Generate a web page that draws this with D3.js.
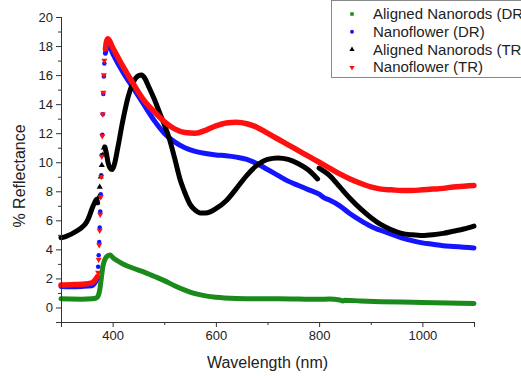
<!DOCTYPE html>
<html>
<head>
<meta charset="utf-8">
<script src="https://cdn.jsdelivr.net/npm/d3@7"></script>
<style>
  body { margin: 0; background: #fff; }
  text { font-family: "Liberation Sans", Arial, sans-serif; fill: #222; }
</style>
</head>
<body>
<div class="chart"></div>
<script>
var svgWidth = 521;
var svgHeight = 376;

// plot box
var margin = { top: 17, right: 47, bottom: 54, left: 61 };
var width = 474 - margin.left;
var height = 322 - margin.top;

// Aligned Nanorods (DR)
var wlGreen = [300, 320, 340, 360, 368, 372, 375, 378, 381, 385, 390, 395, 400, 410, 420, 440, 460, 480, 500, 520, 540, 560, 580, 600, 640, 680, 720, 760, 800, 820, 840, 846, 850, 880, 920, 960, 1000, 1050, 1100];
var rGreen  = [0.6, 0.58, 0.57, 0.6, 0.65, 0.8, 1.2, 2.0, 2.8, 3.3, 3.55, 3.62, 3.45, 3.2, 3.0, 2.7, 2.45, 2.15, 1.85, 1.5, 1.2, 0.95, 0.8, 0.7, 0.62, 0.6, 0.6, 0.58, 0.56, 0.58, 0.52, 0.45, 0.5, 0.45, 0.4, 0.37, 0.34, 0.3, 0.28];

// Nanoflower (DR)
var wlBlue = [300, 320, 340, 360, 366, 370, 372, 373, 374, 375, 376, 377, 378, 379, 380, 381, 382, 383, 384, 386, 389, 392, 400, 420, 440, 460, 480, 500, 520, 540, 560, 580, 600, 620, 640, 660, 680, 700, 720, 740, 760, 780, 800, 810, 820, 840, 860, 880, 900, 920, 940, 960, 980, 1000, 1020, 1040, 1060, 1080, 1100];
var rBlue  = [1.45, 1.43, 1.45, 1.5, 1.7, 2.0, 2.8, 3.6, 4.5, 5.5, 6.6, 7.8, 9.1, 10.5, 11.9, 13.3, 14.7, 15.9, 16.8, 17.5, 17.95, 18.1, 17.5, 16.2, 15.1, 14.0, 12.9, 12.0, 11.4, 11.0, 10.75, 10.6, 10.5, 10.45, 10.35, 10.2, 9.9, 9.5, 9.1, 8.7, 8.4, 8.1, 7.8, 7.55, 7.4, 7.0, 6.45, 6.0, 5.6, 5.3, 5.05, 4.8, 4.6, 4.45, 4.35, 4.25, 4.2, 4.15, 4.1];
var riseBlue = [371, 385];

// Aligned Nanorods (TR)
var wlBlack = [300, 310, 320, 330, 340, 350, 355, 360, 365, 369, 371, 373, 375, 377, 379, 381, 383, 385, 388, 391, 395, 399, 403, 410, 420, 430, 440, 450, 456, 462, 470, 480, 490, 500, 510, 520, 530, 540, 550, 560, 570, 580, 590, 600, 620, 640, 660, 680, 700, 720, 740, 760, 780, 797, 798, 800, 820, 840, 860, 880, 900, 920, 940, 960, 980, 1000, 1020, 1040, 1060, 1080, 1100];
var rBlack  = [4.8, 4.9, 5.05, 5.25, 5.5, 5.9, 6.3, 6.8, 7.2, 7.45, 7.2, 7.6, 8.3, 9.0, 9.8, 10.5, 11.0, 11.05, 10.6, 10.0, 9.6, 9.5, 9.8, 11.0, 12.9, 14.5, 15.5, 15.95, 16.0, 15.8, 15.2, 14.4, 13.5, 12.6, 11.6, 10.3, 8.9, 7.9, 7.1, 6.7, 6.5, 6.5, 6.6, 6.8, 7.35, 8.2, 9.1, 9.8, 10.2, 10.3, 10.2, 9.9, 9.45, 8.85, null, 9.6, 9.1, 8.3, 7.5, 6.8, 6.2, 5.7, 5.35, 5.1, 5.0, 4.95, 5.0, 5.1, 5.25, 5.4, 5.6];
var riseBlack = [372, 384];

// Nanoflower (TR)
var wlRed = [300, 320, 340, 360, 366, 370, 372, 373, 374, 375, 376, 377, 378, 379, 380, 381, 382, 383, 384, 386, 388, 391, 400, 420, 440, 460, 480, 500, 520, 540, 560, 580, 600, 620, 640, 660, 680, 700, 720, 740, 760, 780, 800, 820, 840, 860, 880, 900, 920, 940, 960, 980, 1000, 1020, 1040, 1060, 1080, 1100];
var rRed  = [1.55, 1.57, 1.6, 1.7, 1.9, 2.1, 2.4, 3.3, 4.3, 5.3, 6.4, 7.6, 9.0, 10.4, 11.8, 13.3, 14.8, 16.0, 17.0, 17.8, 18.3, 18.5, 17.9, 16.6, 15.4, 14.3, 13.5, 12.8, 12.3, 12.05, 12.0, 12.2, 12.5, 12.7, 12.75, 12.65, 12.4, 12.0, 11.6, 11.2, 10.8, 10.4, 10.0, 9.6, 9.2, 8.85, 8.55, 8.3, 8.15, 8.1, 8.05, 8.05, 8.1, 8.15, 8.2, 8.3, 8.35, 8.4];
var riseRed = [371, 385];

var seriesNames = ["Aligned Nanorods (DR)", "Nanoflower (DR)", "Aligned Nanorods (TR)", "Nanoflower (TR)"];
var xTicks = [400, 600, 800, 1000];
var yTicks = [0, 2, 4, 6, 8, 10, 12, 14, 16, 18, 20];

var series = [
  { name: seriesNames[0], wl: wlGreen, r: rGreen, rise: null, color: "#1a8a1a", shape: d3.symbolSquare, rot: 0, width: 5 },
  { name: seriesNames[1], wl: wlBlue, r: rBlue, rise: riseBlue, color: "#1414ff", shape: d3.symbolCircle, rot: 0, width: 5 },
  { name: seriesNames[2], wl: wlBlack, r: rBlack, rise: riseBlack, color: "#000000", shape: d3.symbolTriangle, rot: 0, width: 5 },
  { name: seriesNames[3], wl: wlRed, r: rRed, rise: riseRed, color: "#ff1010", shape: d3.symbolTriangle, rot: 180, width: 5.5 }
];

var svg = d3.select(".chart")
  .append("svg")
  .attr("width", svgWidth)
  .attr("height", svgHeight);

var chartGroup = svg.append("g")
  .attr("transform", `translate(${margin.left}, ${margin.top})`);

var x = d3.scaleLinear().domain([300, 1100]).range([0, width]);
var y = d3.scaleLinear().domain([-1, 20]).range([height, 0]);

// data lines
series.forEach(function(s) {
  var pts = s.wl.map((w, i) => ({ w: w, v: s.r[i] }));
  var inRise = d => s.rise && d.w > s.rise[0] && d.w < s.rise[1];

  var line = d3.line()
    .defined(d => d.v != null && !inRise(d))
    .x(d => x(d.w))
    .y(d => y(d.v))
    .curve(d3.curveMonotoneX);

  chartGroup.append("path")
    .datum(pts)
    .attr("fill", "none")
    .attr("stroke", s.color)
    .attr("stroke-width", s.width)
    .attr("stroke-linejoin", "round")
    .attr("stroke-linecap", "round")
    .attr("d", line);

  // sparse markers on the steep edge
  chartGroup.selectAll(null)
    .data(pts.filter(d => d.v != null && inRise(d)))
    .enter()
    .append("path")
    .attr("d", d3.symbol().type(s.shape).size(16))
    .attr("fill", s.color)
    .attr("transform", d => `translate(${x(d.w)},${y(d.v)}) rotate(${s.rot})`);
});

// axes
var xAxis = d3.axisBottom(x).tickValues(xTicks).tickSize(5).tickPadding(4).tickFormat(d3.format("d"));
var xMinor = d3.axisBottom(x).tickValues([300, 500, 700, 900, 1100]).tickSize(3).tickFormat("");
var yAxis = d3.axisLeft(y).tickValues(yTicks).tickSize(5).tickPadding(3).tickFormat(d3.format("d"));
var yMinor = d3.axisLeft(y).tickValues(d3.range(-1, 20, 2)).tickSize(3).tickFormat("");

chartGroup.append("g").attr("transform", `translate(0, ${height})`).call(xMinor);
chartGroup.append("g").attr("transform", `translate(0, ${height})`).call(xAxis);
chartGroup.append("g").call(yMinor);
chartGroup.append("g").call(yAxis);

chartGroup.selectAll(".domain").attr("stroke", "#333");
chartGroup.selectAll(".tick line").attr("stroke", "#333");
chartGroup.selectAll(".tick text").style("font-size", "13px").attr("fill", "#222");

// axis titles
svg.append("text")
  .attr("x", margin.left + width / 2)
  .attr("y", 368)
  .attr("text-anchor", "middle")
  .style("font-size", "16px")
  .text("Wavelength (nm)");

svg.append("text")
  .attr("transform", "translate(25, 176) rotate(-90)")
  .attr("text-anchor", "middle")
  .style("font-size", "16px")
  .text("% Reflectance");

// legend
var legend = svg.append("g");
legend.append("rect")
  .attr("x", 331.5)
  .attr("y", 0.5)
  .attr("width", 240)
  .attr("height", 77)
  .attr("fill", "#fff")
  .attr("stroke", "#888");

series.forEach(function(s, i) {
  var ly = 14 + i * 17.8;
  legend.append("path")
    .attr("d", d3.symbol().type(s.shape).size(12))
    .attr("fill", s.color)
    .attr("transform", `translate(352, ${ly}) rotate(${s.rot})`);
  legend.append("text")
    .attr("x", 373)
    .attr("y", ly + 5)
    .style("font-size", "15px")
    .text(s.name);
});
</script>
</body>
</html>
